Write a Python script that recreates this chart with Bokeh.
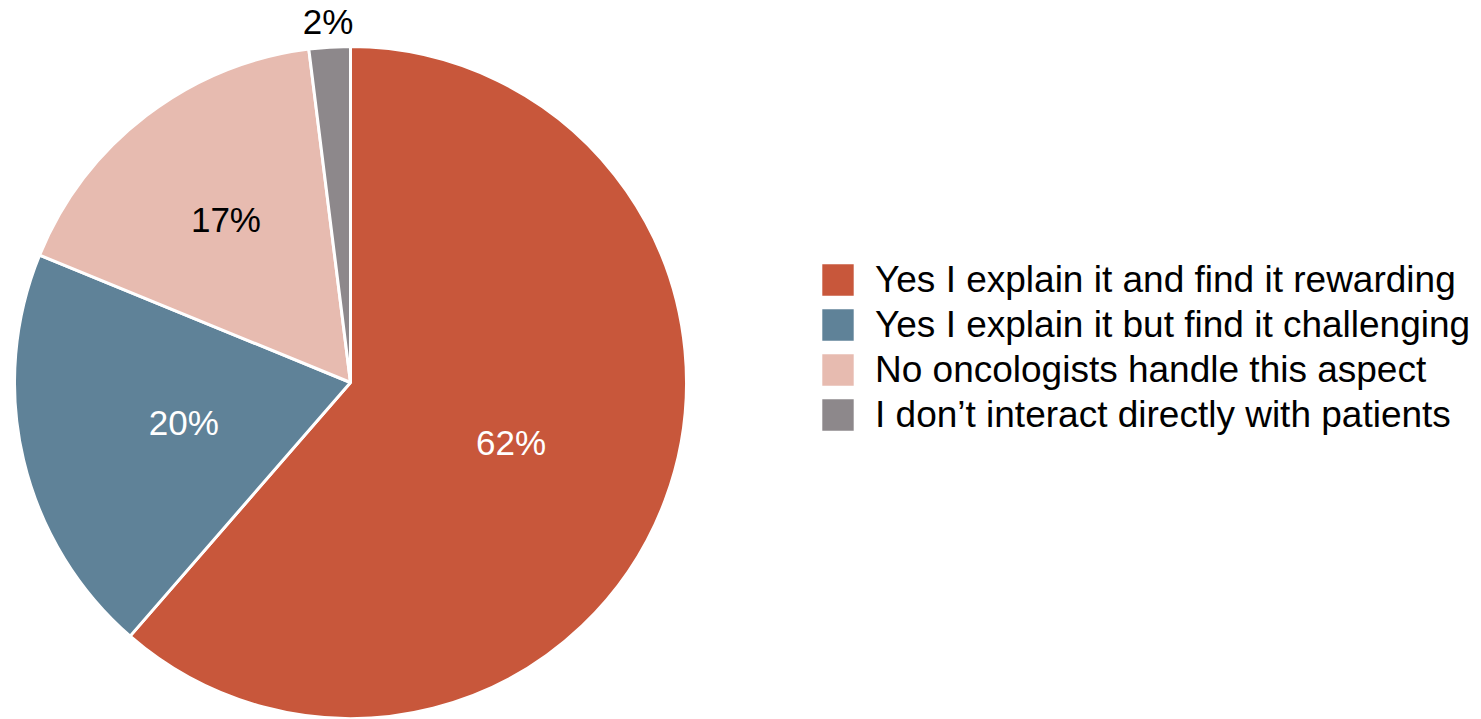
import numpy as np
from bokeh.plotting import figure
from bokeh.models import Range1d, Legend, LegendItem, ColumnDataSource
from bokeh.core.properties import value
from bokeh.embed import file_html
from bokeh.resources import INLINE

categories = ["Yes I explain it and find it rewarding",
              "Yes I explain it but find it challenging",
              "No oncologists handle this aspect",
              "I don\u2019t interact directly with patients"]
percents = [62, 20, 17, 2]
labels = ["62%", "20%", "17%", "2%"]
colors = ["#C8573B", "#5F8298", "#E7BBB0", "#8D888B"]
label_colors = ["white", "white", "black", "black"]
label_r = [0.51, 0.51, 0.61, 1.075]

W, H = 1481, 719
cx, cy, R = 350, 719 - 382, 336

vals = np.array(percents, dtype=float)
frac = vals / vals.sum()
cum = np.concatenate([[0], np.cumsum(frac)])
start = np.pi / 2 - 2 * np.pi * cum[:-1]
end = np.pi / 2 - 2 * np.pi * cum[1:]
mid = (start + end) / 2

src = ColumnDataSource(dict(start=start, end=end, color=colors, cat=categories))

p = figure(width=W, height=H, output_backend="svg", toolbar_location=None,
           x_range=Range1d(0, W), y_range=Range1d(0, H), min_border=0)
p.axis.visible = False
p.grid.visible = False
p.outline_line_color = None
p.background_fill_color = "white"

r = p.wedge(x=cx, y=cy, radius=R, start_angle="start", end_angle="end",
            direction="clock", fill_color="color", line_color="white",
            line_width=3, source=src)

lx = cx + np.array(label_r) * R * np.cos(mid)
ly = cy + np.array(label_r) * R * np.sin(mid)
p.text(x=lx, y=ly, text=labels, text_color=label_colors,
       text_font=value("Liberation Sans"), text_font_size="35px",
       text_align="center", text_baseline="middle")

items = [LegendItem(label=c, renderers=[r], index=i) for i, c in enumerate(categories)]
legend = Legend(items=items, location=(816, 283), padding=0, margin=0,
                glyph_width=43, glyph_height=43, label_height=43,
                spacing=2, label_standoff=16,
                label_text_font="Liberation Sans", label_text_font_size="37px",
                label_text_color="black", border_line_alpha=0,
                background_fill_alpha=0)
p.add_layout(legend, "center")

open("out.html", "w").write(file_html(p, INLINE))
